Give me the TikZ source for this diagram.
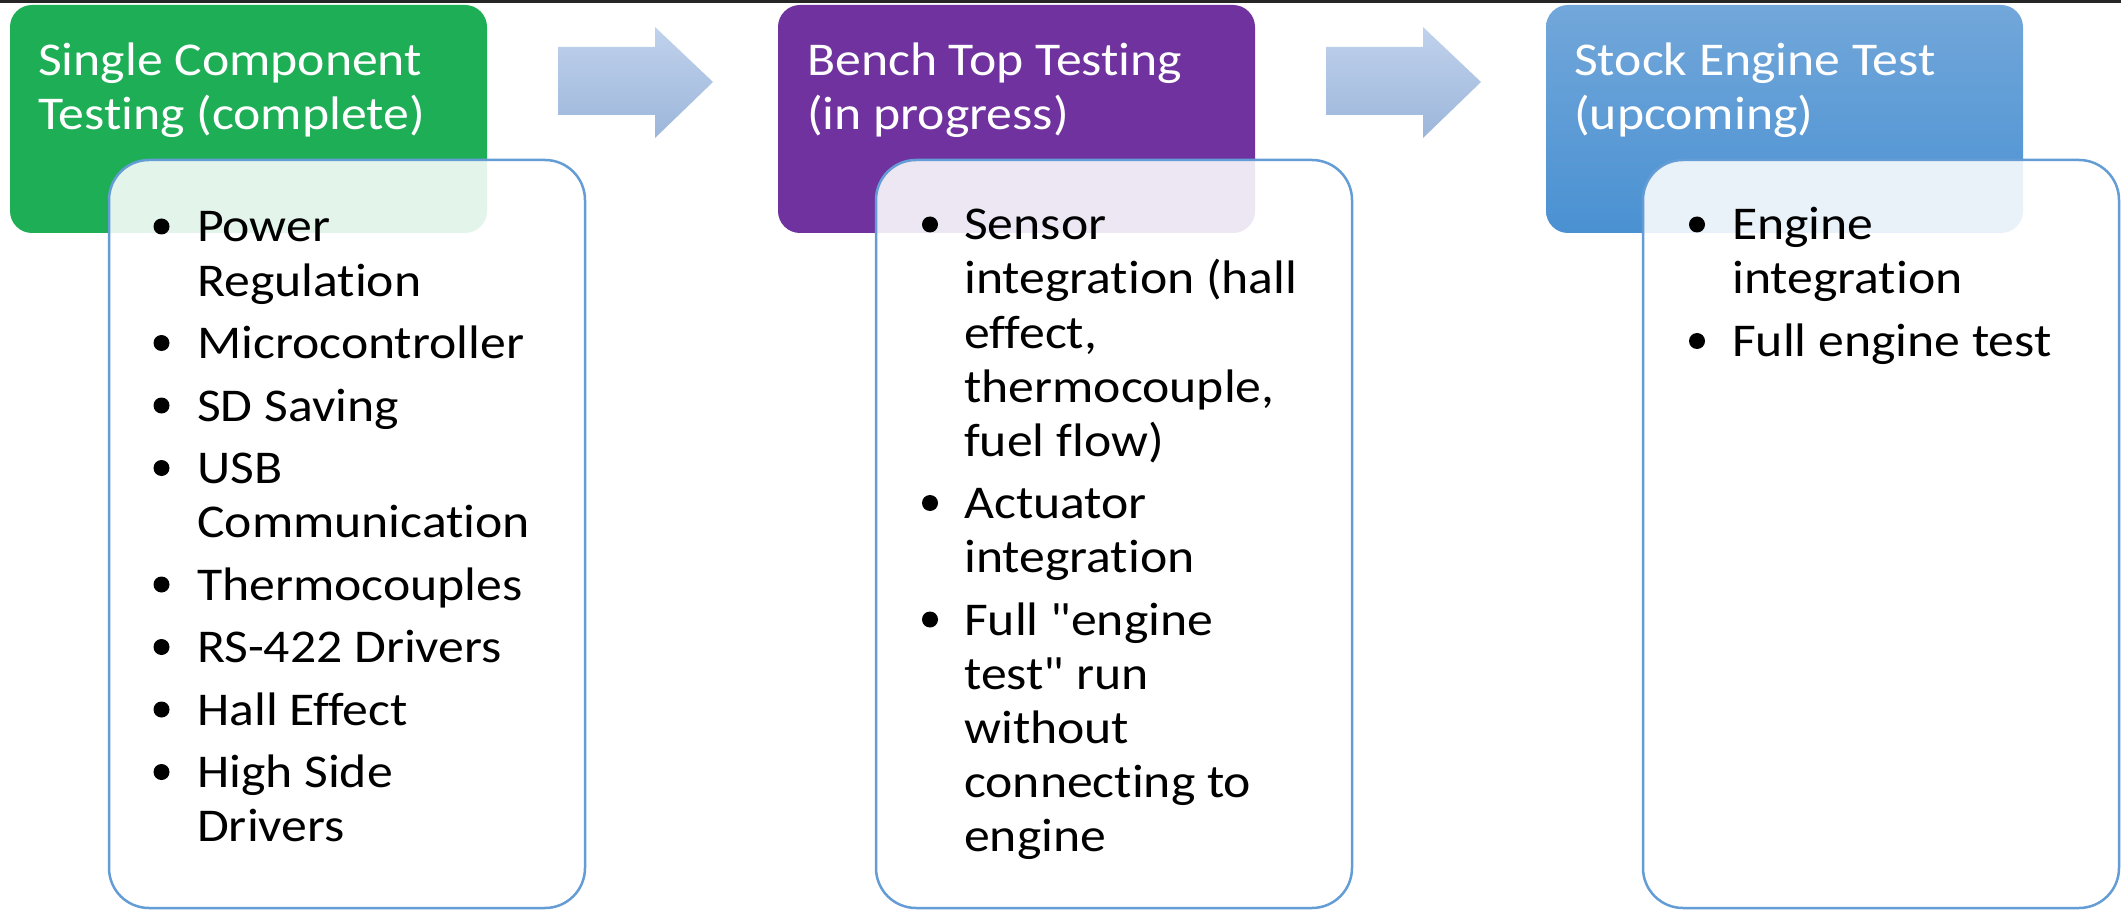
\documentclass[tikz,border=0pt]{standalone}
\usepackage{fontspec}
\setmainfont[FakeStretch=1.1, Ligatures={TeXOff,CommonOff}]{Carlito}
\definecolor{hdrgreen}{RGB}{30,174,86}
\definecolor{hdrpurple}{RGB}{112,50,158}
\definecolor{hdrbluetop}{RGB}{114,167,218}
\definecolor{hdrbluebot}{RGB}{74,145,210}
\definecolor{boxline}{RGB}{100,157,214}
\definecolor{arrtop}{RGB}{192,210,236}
\definecolor{arrbot}{RGB}{156,182,218}
\tikzset{
  hdrbox/.style={rectangle, rounded corners=22pt, minimum width=477pt, minimum height=228pt, inner sep=0pt, draw=none},
  listbox/.style={rectangle, rounded corners=40pt, minimum width=476pt, minimum height=748pt, inner sep=0pt,
    fill=white, fill opacity=0.88, draw=boxline, draw opacity=1, line width=2.5pt},
  hdrtext/.style={anchor=base west, inner sep=0pt, text=white, font=\fontsize{47}{54}\selectfont},
  body/.style={anchor=base west, inner sep=0pt, text=black, font=\fontsize{47}{54}\selectfont},
  dot/.style={circle, fill=black, draw=none, minimum size=16pt, inner sep=0pt},
  blockarrow/.style={top color=arrtop, bottom color=arrbot, draw=none}
}
% one body line: name, x of text, baseline y, text
\newcommand{\bodyline}[4]{\node[body] (#1) at (#2,#3) {#4};}
% bullet in front of a body line: name, x of centre, baseline y of the line
\newcommand{\bodydot}[3]{\node[dot] (#1) at (#2,#3-15.5) {};}
\begin{document}
\begin{tikzpicture}[x=1pt, y=-1pt]
\useasboundingbox (0,0) rectangle (2121,912);
\fill[white] (0,0) rectangle (2121,912);
\fill[black!85] (0,0) rectangle (2121,3);

% stage headers
\node[hdrbox, fill=hdrgreen] (h1) at (248.5,119) {};
\node[hdrbox, fill=hdrpurple] (h2) at (1016.5,119) {};
\node[hdrbox, top color=hdrbluetop, bottom color=hdrbluebot] (h3) at (1784.5,119) {};

% block arrows between the stages
\shade[blockarrow] (558,47) -- (655,47) -- (655,27) -- (713,82) -- (655,138) -- (655,115) -- (558,115) -- cycle;
\shade[blockarrow] (1326,47) -- (1423,47) -- (1423,27) -- (1481,82) -- (1423,138) -- (1423,115) -- (1326,115) -- cycle;

% detail boxes, lying over the headers
\node[listbox] (d1) at (347,534) {};
\node[listbox] (d2) at (1114,534) {};
\node[listbox] (d3) at (1881,534) {};

% header titles
\node[hdrtext] (t1a) at (38,76) {Single Component};
\node[hdrtext] (t1b) at (38,130) {Testing (complete)};
\node[hdrtext] (t2a) at (807,76) {Bench Top Testing};
\node[hdrtext] (t2b) at (807,130) {(in progress)};
\node[hdrtext] (t3a) at (1574,76) {Stock Engine Test};
\node[hdrtext] (t3b) at (1574,130) {(upcoming)};

% first list
\bodydot{a1}{161.5}{242}   \bodyline{l1a}{197}{242}{Power}
                           \bodyline{l1b}{197}{296}{Regulation}
\bodydot{a2}{161.5}{358.5} \bodyline{l1c}{197}{358.5}{Microcontroller}
\bodydot{a3}{161.5}{421}   \bodyline{l1d}{197}{421}{SD Saving}
\bodydot{a4}{161.5}{483.5} \bodyline{l1e}{197}{483.5}{USB}
                           \bodyline{l1f}{197}{537.5}{Communication}
\bodydot{a5}{161.5}{600}   \bodyline{l1g}{197}{600}{Thermocouples}
\bodydot{a6}{161.5}{662.5} \bodyline{l1h}{197}{662.5}{RS-422 Drivers}
\bodydot{a7}{161.5}{725}   \bodyline{l1i}{197}{725}{Hall Effect}
\bodydot{a8}{161.5}{787.5} \bodyline{l1j}{197}{787.5}{High Side}
                           \bodyline{l1k}{197}{841.5}{Drivers}

% second list
\bodydot{b1}{930}{240}   \bodyline{l2a}{964}{240}{Sensor}
                         \bodyline{l2b}{964}{294}{integration (hall}
                         \bodyline{l2c}{964}{348}{effect,}
                         \bodyline{l2d}{964}{402}{thermocouple,}
                         \bodyline{l2e}{964}{456}{fuel flow)}
\bodydot{b2}{930}{518.5} \bodyline{l2f}{964}{518.5}{Actuator}
                         \bodyline{l2g}{964}{572.5}{integration}
\bodydot{b3}{930}{635}   \bodyline{l2h}{964}{635}{Full "engine}
                         \bodyline{l2i}{964}{689}{test" run}
                         \bodyline{l2j}{964}{743}{without}
                         \bodyline{l2k}{964}{797}{connecting to}
                         \bodyline{l2l}{964}{851}{engine}

% third list
\bodydot{c1}{1697}{240}   \bodyline{l3a}{1732}{240}{Engine}
                          \bodyline{l3b}{1732}{294}{integration}
\bodydot{c2}{1697}{356.5} \bodyline{l3c}{1732}{356.5}{Full engine test}
\end{tikzpicture}
\end{document}
